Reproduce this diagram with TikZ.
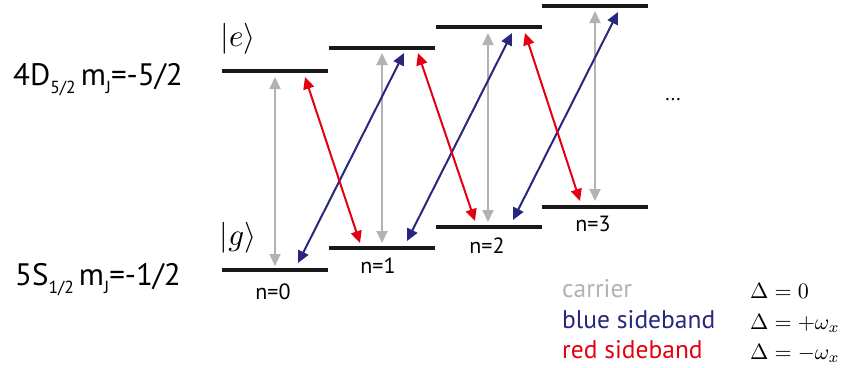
\documentclass[tikz,border=0pt]{standalone}
\usepackage[no-math]{fontspec}
\setmainfont{PT Sans}
\usetikzlibrary{arrows.meta}
\definecolor{cgray}{RGB}{178,178,178}
\definecolor{cblue}{RGB}{40,38,125}
\definecolor{cred}{RGB}{228,0,19}
\definecolor{clev}{RGB}{25,25,25}
\newcommand{\subtxt}[1]{\raisebox{-0.27em}{\fontsize{17.5}{18}\selectfont #1}}
\newcommand{\bigmath}[2]{\scalebox{#1}{\normalsize$#2$}}
\begin{document}
\begin{tikzpicture}[x=1pt,y=-1pt,
  lev/.style={fill=clev, inner sep=0pt, minimum width=106pt, minimum height=4pt},
  tr/.style={line width=2pt, {Triangle[width=11pt,length=12pt]}-{Triangle[width=11pt,length=12pt]}},
  car/.style={tr, draw=cgray},
  bsb/.style={tr, draw=cblue},
  rsb/.style={tr, draw=cred},
  nlab/.style={font=\fontsize{22}{24}\selectfont, anchor=base, inner sep=0pt},
  leg/.style={font=\fontsize{25.5}{27}\selectfont, anchor=base west, inner sep=0pt},
  mth/.style={anchor=base west, inner sep=0pt},
  ket/.style={inner sep=0pt},
  big/.style={font=\fontsize{31}{34}\selectfont, anchor=base west, inner sep=0pt}]
\useasboundingbox (0,0) rectangle (845,367);
% levels
\node[lev] (e0) at (275,71) {};
\node[lev] (e1) at (381.5,47.5) {};
\node[lev] (e2) at (489,27) {};
\node[lev] (e3) at (595,6) {};
\node[lev] (g0) at (275,270) {};
\node[lev] (g1) at (381.5,248) {};
\node[lev] (g2) at (489,227) {};
\node[lev] (g3) at (595,206.5) {};
% arrow end points
\coordinate (c0t) at (275,77);  \coordinate (c0b) at (275,266);
\coordinate (c1t) at (382,53);  \coordinate (c1b) at (382,243);
\coordinate (c2t) at (488,33);  \coordinate (c2b) at (488,222);
\coordinate (c3t) at (595,11);  \coordinate (c3b) at (595,201);
\coordinate (b0l) at (298,263); \coordinate (b0u) at (404,53);
\coordinate (b1l) at (407,241); \coordinate (b1u) at (512,33);
\coordinate (b2l) at (513,220); \coordinate (b2u) at (618,12);
\coordinate (r0u) at (305,77);  \coordinate (r0l) at (360,243);
\coordinate (r1u) at (418,53);  \coordinate (r1l) at (475,221);
\coordinate (r2u) at (525,33);  \coordinate (r2l) at (580,201);
% carrier
\draw[car] (c0t) -- (c0b);
\draw[car] (c1t) -- (c1b);
\draw[car] (c2t) -- (c2b);
\draw[car] (c3t) -- (c3b);
% blue sideband
\draw[bsb] (b0l) -- (b0u);
\draw[bsb] (b1l) -- (b1u);
\draw[bsb] (b2l) -- (b2u);
% red sideband
\draw[rsb] (r0u) -- (r0l);
\draw[rsb] (r1u) -- (r1l);
\draw[rsb] (r2u) -- (r2l);
% state labels
\node[ket] (ket e) at (238,39) {\bigmath{3.1}{|e\rangle}};
\node[ket] (ket g) at (238,238) {\bigmath{3.1}{|g\rangle}};
\node[big] (lD) at (13,85) {4D\subtxt{5/2}\,m\subtxt{J}=-5/2};
\node[big] (lS) at (15,285) {5S\subtxt{1/2}\,m\subtxt{J}=-1/2};
% n labels
\node[nlab] (n0) at (273,299) {n=0};
\node[nlab] (n1) at (378,273) {n=1};
\node[nlab] (n2) at (487,253) {n=2};
\node[nlab] (n3) at (593,231) {n=3};
\node[nlab, font=\fontsize{20}{22}\selectfont] (dots) at (673,100) {...};
% legend
\node[leg, text=cgray] (lc) at (562,297) {carrier};
\node[leg, text=cblue] (lb) at (562,328) {blue sideband};
\node[leg, text=cred] (lr) at (562,358) {red sideband};
\node[mth] (mc) at (750,298) {\bigmath{2.2}{\Delta=0}};
\node[mth] (mb) at (750,329) {\bigmath{2.2}{\Delta=+\omega_x}};
\node[mth] (mr) at (750,359) {\bigmath{2.2}{\Delta=-\omega_x}};
\end{tikzpicture}
\end{document}
